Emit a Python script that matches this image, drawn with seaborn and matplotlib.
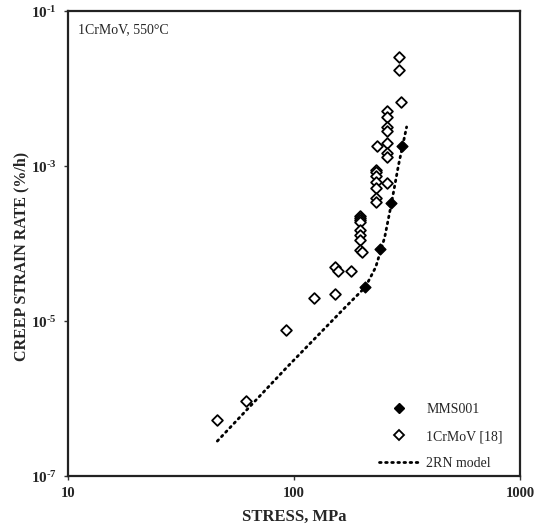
import matplotlib
matplotlib.use("Agg")
import matplotlib.pyplot as plt
import seaborn as sns
import pandas as pd
from matplotlib.lines import Line2D

# ---- data ----
mms_stress = [207, 241, 270, 302]
mms_rate = [2.75e-5, 8.5e-5, 3.33e-4, 1.8e-3]

lit_stress = [45.8, 61.5, 92.2, 122, 152, 152, 156, 178,
              196, 196, 196, 196, 196, 196, 196, 196, 199,
              230, 230, 230, 230, 230, 230, 230, 257,
              259, 259, 259, 259, 259, 259, 259, 232,
              290, 290, 296]
lit_rate = [5.3e-7, 9.3e-7, 7.7e-6, 1.98e-5, 2.23e-5, 4.98e-5, 4.4e-5, 4.4e-5,
            2.3e-4, 2.15e-4, 2.0e-4, 1.9e-4, 1.49e-4, 1.29e-4, 1.11e-4, 8.2e-5, 7.8e-5,
            9.0e-4, 8.4e-4, 7.4e-4, 6.2e-4, 5.2e-4, 3.9e-4, 3.4e-4, 6.0e-4,
            5.1e-3, 4.3e-3, 3.2e-3, 2.8e-3, 2.0e-3, 1.47e-3, 1.31e-3, 1.8e-3,
            2.55e-2, 1.73e-2, 6.7e-3]

model_stress = [45.8, 93.2, 169, 207, 230, 252, 270, 290, 315]
model_rate = [2.83e-7, 2.55e-6, 1.52e-5, 2.75e-5, 4.98e-5, 1.21e-4, 3.33e-4, 1.03e-3, 3.2e-3]

x_ticks = [10, 100, 1000]
x_tick_labels = ["10", "100", "1000"]
y_exponents = [-7, -5, -3, -1]

series_names = ["MMS001", "1CrMoV [18]", "2RN model"]
title_text = "1CrMoV, 550°C"
x_label = "STRESS, MPa"
y_label = "CREEP STRAIN RATE (%/h)"

# ---- styling ----
sns.set_style("ticks")
plt.rcParams["font.family"] = ["Liberation Serif", "DejaVu Serif"]
plt.rcParams["mathtext.fontset"] = "custom"
plt.rcParams["mathtext.rm"] = "Liberation Serif"
plt.rcParams["mathtext.bf"] = "Liberation Serif:bold"

fig = plt.figure(figsize=(5.35, 5.29), dpi=100)
ax = fig.add_axes([0.127, 0.100, 0.845, 0.879])

df_mms = pd.DataFrame({"stress": mms_stress, "rate": mms_rate})
df_lit = pd.DataFrame({"stress": lit_stress, "rate": lit_rate})
df_model = pd.DataFrame({"stress": model_stress, "rate": model_rate})

dot_style = (0, (0.6, 1.6))
sns.lineplot(data=df_model, x="stress", y="rate", ax=ax, color="black",
             linestyle=dot_style, linewidth=2.0, estimator=None, sort=False,
             dash_capstyle="round", zorder=2)
sns.scatterplot(data=df_lit, x="stress", y="rate", ax=ax, marker="D", s=30,
                facecolor="white", edgecolor="black", linewidth=1.3, zorder=3)
sns.scatterplot(data=df_mms, x="stress", y="rate", ax=ax, marker="D", s=30,
                color="black", edgecolor="black", linewidth=1.0, zorder=4)

ax.set_xscale("log")
ax.set_yscale("log")
ax.set_xlim(10, 1000)
ax.set_ylim(1e-7, 1e-1)

ax.set_xticks(x_ticks)
ax.set_xticklabels(x_tick_labels, fontweight="bold", fontsize=10.5)
yt = [10.0 ** e for e in y_exponents]
ax.set_yticks(yt)
ax.set_yticklabels([r"$\mathbf{10^{\text{-}%d}}$" % abs(e) for e in y_exponents],
                   fontsize=11)
ax.minorticks_off()
ax.tick_params(axis="both", direction="out", length=3, width=1, color="#333333", pad=5)

ax.set_xlabel(x_label, fontweight="bold", fontsize=12)
ax.xaxis.set_label_coords(0.5, -0.071)
ax.set_ylabel(y_label, fontweight="bold", fontsize=11.5)
ax.yaxis.set_label_coords(-0.086, 0.473)

for sp in ax.spines.values():
    sp.set_visible(True)
    sp.set_linewidth(1.6)
    sp.set_color("#222222")

ax.text(0.022, 0.975, title_text, transform=ax.transAxes, fontsize=10,
        va="top", ha="left")

handles = [
    Line2D([], [], marker="D", linestyle="none", markersize=5.5,
           markerfacecolor="black", markeredgecolor="black"),
    Line2D([], [], marker="D", linestyle="none", markersize=5.5,
           markerfacecolor="white", markeredgecolor="black", markeredgewidth=1.3),
    Line2D([], [], color="black", linestyle=dot_style, linewidth=2.0,
           dash_capstyle="round"),
]
leg = ax.legend(handles, series_names, loc="lower right", frameon=False,
                fontsize=10, handlelength=2.8, handletextpad=0.6,
                labelspacing=1.0, bbox_to_anchor=(0.99, -0.014))

fig.savefig("out.png", dpi=100)
